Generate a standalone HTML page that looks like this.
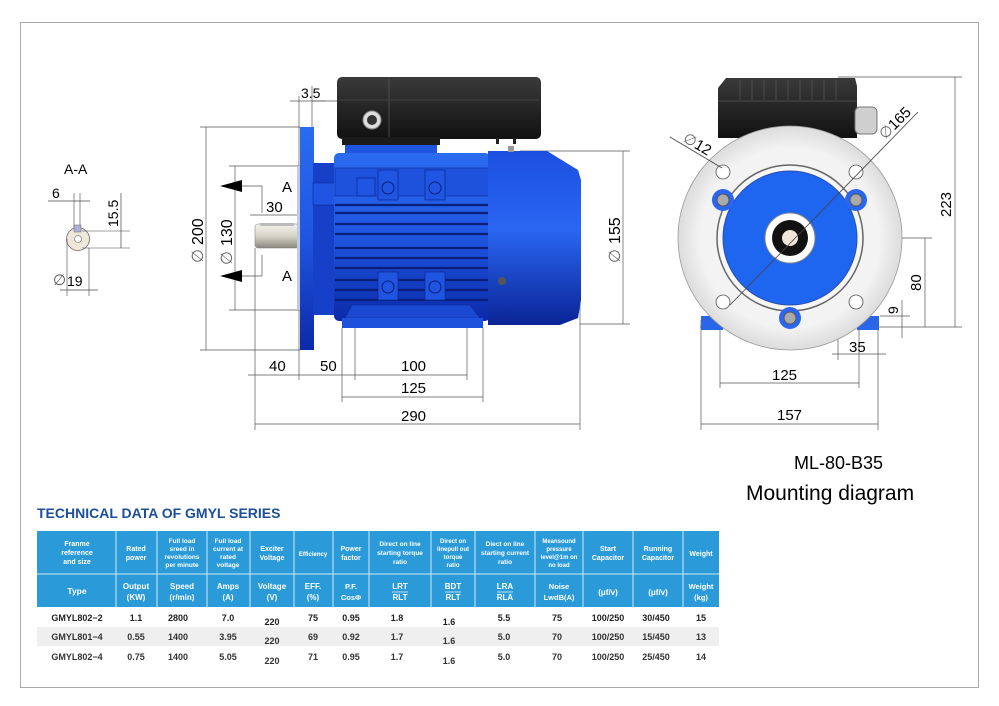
<!DOCTYPE html>
<html><head><meta charset="utf-8"><style>
html,body{margin:0;padding:0;background:#fff;}
svg{display:block;font-family:"Liberation Sans",Arial,sans-serif;}
</style></head><body>
<svg width="999" height="706" viewBox="0 0 999 706" xmlns="http://www.w3.org/2000/svg">
<defs>
<linearGradient id="bv" x1="0" y1="0" x2="0" y2="1">
<stop offset="0" stop-color="#2a6cf0"/><stop offset="0.5" stop-color="#1f55e0"/><stop offset="1" stop-color="#0b2aa8"/></linearGradient>
<linearGradient id="cap" x1="0" y1="0" x2="0" y2="1">
<stop offset="0" stop-color="#1c4fe0"/><stop offset="0.45" stop-color="#2a66f2"/><stop offset="1" stop-color="#0a2496"/></linearGradient>
<linearGradient id="shaft" x1="0" y1="0" x2="0" y2="1">
<stop offset="0" stop-color="#f4f2ec"/><stop offset="0.5" stop-color="#d8d4c8"/><stop offset="1" stop-color="#8a877e"/></linearGradient>
<linearGradient id="box" x1="0" y1="0" x2="0" y2="1">
<stop offset="0" stop-color="#3a3a3a"/><stop offset="1" stop-color="#111"/></linearGradient>
<radialGradient id="disc" cx="0.5" cy="0.5" r="0.5">
<stop offset="0.8" stop-color="#f3f3f3"/><stop offset="1" stop-color="#dcdcdc"/></radialGradient>
</defs>
<rect x="20.5" y="22.5" width="958" height="665" fill="none" stroke="#aaa" stroke-width="1"/>

<!-- A-A section -->
<text x="64" y="174" font-size="14">A-A</text>
<text x="52" y="198" font-size="14">6</text>
<line x1="48" y1="201" x2="90" y2="201" stroke="#444" stroke-width="0.7"/>
<line x1="74" y1="193" x2="74" y2="228" stroke="#444" stroke-width="0.6"/>
<line x1="80" y1="193" x2="80" y2="228" stroke="#444" stroke-width="0.6"/>
<circle cx="78" cy="239" r="11.5" fill="#efe8da" stroke="#666" stroke-width="0.8"/>
<circle cx="78" cy="239" r="3.5" fill="#fff" stroke="#666" stroke-width="0.6"/>
<rect x="74" y="225" width="7" height="7" fill="#aab0d8" stroke="#666" stroke-width="0.5"/>
<line x1="82" y1="231" x2="130" y2="231" stroke="#444" stroke-width="0.6"/>
<line x1="82" y1="248" x2="130" y2="248" stroke="#444" stroke-width="0.6"/>
<line x1="121" y1="193" x2="121" y2="248" stroke="#444" stroke-width="0.7"/>
<text transform="translate(118,227) rotate(-90)" font-size="14">15.5</text>
<line x1="67" y1="239" x2="67" y2="296" stroke="#444" stroke-width="0.6"/>
<line x1="89" y1="248" x2="89" y2="296" stroke="#444" stroke-width="0.6"/>
<line x1="60" y1="290" x2="98" y2="290" stroke="#444" stroke-width="0.7"/>
<text x="53" y="285" font-size="15" fill="#555">∅</text><text x="67" y="286" font-size="14">19</text>

<!-- Left view: dimension lines -->
<g stroke="#555" stroke-width="0.7" fill="none">
<line x1="200" y1="127" x2="300" y2="127"/><line x1="200" y1="350" x2="300" y2="350"/>
<line x1="206" y1="127" x2="206" y2="350"/>
<line x1="229" y1="166" x2="300" y2="166"/><line x1="229" y1="310" x2="300" y2="310"/>
<line x1="235" y1="166" x2="235" y2="310"/>
<line x1="242" y1="186" x2="262" y2="186"/><line x1="262" y1="186" x2="262" y2="213"/>
<line x1="242" y1="276" x2="262" y2="276"/><line x1="262" y1="276" x2="262" y2="255"/>
<line x1="250" y1="215" x2="300" y2="215"/>
<line x1="255" y1="248" x2="255" y2="430"/>
<line x1="299" y1="96" x2="299" y2="380"/><line x1="312" y1="86" x2="312" y2="127"/>
<line x1="290" y1="101" x2="325" y2="101"/><line x1="312" y1="101" x2="337" y2="101"/>
<line x1="342" y1="328" x2="342" y2="402"/><line x1="355" y1="328" x2="355" y2="380"/>
<line x1="467" y1="328" x2="467" y2="380"/><line x1="483" y1="328" x2="483" y2="402"/>
<line x1="580" y1="300" x2="580" y2="430"/>
<line x1="248" y1="375" x2="467" y2="375"/>
<line x1="342" y1="397" x2="483" y2="397"/>
<line x1="255" y1="424" x2="580" y2="424"/>
<line x1="520" y1="151" x2="630" y2="151"/><line x1="580" y1="324" x2="630" y2="324"/>
<line x1="623" y1="151" x2="623" y2="324"/>
</g>
<polygon points="220,186 242,180 242,192" fill="#000"/>
<polygon points="220,276 242,270 242,282" fill="#000"/>
<text x="282" y="192" font-size="15">A</text>
<text x="282" y="281" font-size="15">A</text>
<text x="266" y="212" font-size="15">30</text>
<text x="301" y="98" font-size="14">3.5</text>
<text transform="translate(203,245) rotate(-90)" font-size="16">200</text>
<text transform="translate(203,263) rotate(-90)" font-size="16" fill="#666">∅</text>
<text transform="translate(232,246) rotate(-90)" font-size="16">130</text>
<text transform="translate(232,265) rotate(-90)" font-size="16" fill="#666">∅</text>
<text transform="translate(620,244) rotate(-90)" font-size="16">155</text>
<text transform="translate(620,263) rotate(-90)" font-size="16" fill="#666">∅</text>
<text x="269" y="371" font-size="15">40</text>
<text x="320" y="371" font-size="15">50</text>
<text x="401" y="371" font-size="15">100</text>
<text x="401" y="393" font-size="15">125</text>
<text x="401" y="421" font-size="15">290</text>

<!-- Left view: motor -->
<rect x="337" y="77" width="204" height="62" rx="5" fill="url(#box)"/>
<line x1="389" y1="79" x2="389" y2="137" stroke="#555" stroke-width="0.8"/>
<line x1="339" y1="100" x2="539" y2="100" stroke="#4a4a4a" stroke-width="0.8"/>
<rect x="342" y="137" width="98" height="8" fill="#1b1b1b"/>
<circle cx="372" cy="120" r="9" fill="#ddd" stroke="#888"/><circle cx="372" cy="120" r="5" fill="#333"/>
<rect x="496" y="138" width="3" height="6" fill="#222"/><rect x="513" y="138" width="3" height="6" fill="#222"/>
<rect x="345" y="145" width="92" height="12" fill="#1f55e0"/>
<!-- shaft -->
<rect x="255" y="224" width="44" height="24" rx="3" fill="url(#shaft)" stroke="#777" stroke-width="0.5"/>
<rect x="260" y="223" width="34" height="3" fill="#bbb"/>
<!-- flange -->
<rect x="297" y="166" width="4" height="144" fill="#bfc8e6"/>
<rect x="300" y="127" width="14" height="223" fill="url(#bv)"/>
<rect x="313" y="163" width="30" height="152" fill="#1740c8"/>
<rect x="313" y="183" width="48" height="22" fill="#1f55e0" stroke="#0a2a9a" stroke-width="0.6"/>
<!-- body -->
<rect x="334" y="153" width="156" height="168" rx="5" fill="url(#bv)"/>
<g stroke="#0a1f7a" stroke-width="2.2">
<line x1="335" y1="205" x2="489" y2="205"/><line x1="335" y1="213" x2="489" y2="213"/>
<line x1="335" y1="224" x2="489" y2="224"/><line x1="335" y1="234" x2="489" y2="234"/>
<line x1="335" y1="248" x2="489" y2="248"/><line x1="335" y1="258" x2="489" y2="258"/>
<line x1="335" y1="268" x2="489" y2="268"/><line x1="335" y1="280" x2="489" y2="280"/>
<line x1="335" y1="290" x2="489" y2="290"/><line x1="335" y1="300" x2="489" y2="300"/>
</g>
<rect x="335" y="168" width="154" height="28" fill="#1e52dc" stroke="#0a2a9a" stroke-width="0.6"/>
<rect x="357" y="178" width="18" height="18" fill="#1f55e0" stroke="#0a2a9a" stroke-width="0.8"/>
<rect x="378" y="170" width="20" height="30" fill="#1f55e0" stroke="#0a2a9a" stroke-width="0.8"/>
<rect x="425" y="170" width="20" height="30" fill="#1f55e0" stroke="#0a2a9a" stroke-width="0.8"/>
<circle cx="388" cy="188" r="6" fill="none" stroke="#0a1f7a"/><circle cx="435" cy="188" r="6" fill="none" stroke="#0a1f7a"/>
<rect x="378" y="272" width="20" height="28" fill="#1f55e0" stroke="#0a2a9a" stroke-width="0.8"/>
<rect x="425" y="272" width="20" height="28" fill="#1f55e0" stroke="#0a2a9a" stroke-width="0.8"/>
<circle cx="388" cy="287" r="6" fill="none" stroke="#0a1f7a"/><circle cx="435" cy="287" r="6" fill="none" stroke="#0a1f7a"/>
<path d="M345,318 L352,305 L470,305 L480,318 Z" fill="#1a48d0" stroke="#0a2a9a" stroke-width="0.6"/>
<rect x="342" y="318" width="141" height="10" fill="#1e52dc"/>
<!-- end cap -->
<path d="M488,151 L547,151 L578,170 L581,180 L581,300 L578,318 L560,325 L488,325 Z" fill="url(#cap)"/>
<rect x="508" y="146" width="6" height="6" fill="#999"/>
<circle cx="502" cy="281" r="4" fill="#555"/>

<!-- Right view -->
<g stroke="#555" stroke-width="0.7" fill="none">
<line x1="838" y1="77" x2="962" y2="77"/><line x1="700" y1="327" x2="962" y2="327"/>
<line x1="955" y1="77" x2="955" y2="327"/>
<line x1="790" y1="238" x2="932" y2="238"/><line x1="925" y1="238" x2="925" y2="327"/>
<line x1="880" y1="316" x2="910" y2="316"/><line x1="902" y1="300" x2="902" y2="338"/>
<line x1="701" y1="320" x2="701" y2="430"/><line x1="878" y1="320" x2="878" y2="430"/>
<line x1="720" y1="318" x2="720" y2="388"/><line x1="859" y1="318" x2="859" y2="388"/>
<line x1="838" y1="330" x2="838" y2="360"/>
<line x1="832" y1="354" x2="886" y2="354"/>
<line x1="720" y1="383" x2="859" y2="383"/>
<line x1="701" y1="424" x2="878" y2="424"/>
</g>
<rect x="701" y="316" width="22" height="14" fill="#2a66e8"/>
<rect x="857" y="316" width="22" height="14" fill="#2a66e8"/>
<path d="M718,88 L726,78 L855,78 L857,86 L857,138 L718,138 Z" fill="url(#box)"/>
<g stroke="#555" stroke-width="0.8">
<line x1="740" y1="80" x2="740" y2="100"/><line x1="752" y1="80" x2="752" y2="100"/><line x1="764" y1="80" x2="764" y2="100"/>
<line x1="776" y1="80" x2="776" y2="100"/><line x1="788" y1="80" x2="788" y2="100"/><line x1="800" y1="80" x2="800" y2="100"/>
<line x1="812" y1="80" x2="812" y2="100"/><line x1="824" y1="80" x2="824" y2="100"/><line x1="836" y1="80" x2="836" y2="100"/>
<line x1="718" y1="101" x2="857" y2="101"/></g>
<rect x="855" y="107" width="22" height="27" rx="5" fill="#cfcfcf" stroke="#777"/>
<circle cx="790" cy="238" r="112" fill="url(#disc)" stroke="#999" stroke-width="0.8"/>
<circle cx="790" cy="238" r="73" fill="#f6f6f6" stroke="#666" stroke-width="1.5"/>
<circle cx="790" cy="238" r="67" fill="#1e66f0" stroke="#2a4cae" stroke-width="1"/>
<circle cx="790" cy="238" r="25" fill="#fff" stroke="#888"/>
<circle cx="790" cy="238" r="18" fill="#111"/>
<circle cx="790" cy="238" r="8" fill="#eee6d8"/>
<g fill="#fff" stroke="#555" stroke-width="0.8">
<circle cx="723" cy="172" r="7"/><circle cx="856" cy="172" r="7"/><circle cx="723" cy="302" r="7"/><circle cx="856" cy="302" r="7"/></g>
<g><circle cx="723" cy="200" r="11" fill="#2a66f0"/><circle cx="723" cy="200" r="6" fill="#aaa" stroke="#555"/>
<circle cx="856" cy="200" r="11" fill="#2a66f0"/><circle cx="856" cy="200" r="6" fill="#aaa" stroke="#555"/>
<circle cx="790" cy="318" r="11" fill="#2a66f0"/><circle cx="790" cy="318" r="6" fill="#aaa" stroke="#555"/></g>
<line x1="670" y1="137" x2="722" y2="168" stroke="#444" stroke-width="0.8"/>
<line x1="918" y1="112" x2="730" y2="305" stroke="#444" stroke-width="0.8"/>
<text transform="translate(682,141) rotate(30)" font-size="15"><tspan fill="#666">∅</tspan>12</text>
<text transform="translate(885,140) rotate(-45)" font-size="15"><tspan fill="#666">∅</tspan>165</text>
<text transform="translate(951,217) rotate(-90)" font-size="15">223</text>
<text transform="translate(921,291) rotate(-90)" font-size="15">80</text>
<text transform="translate(898,314) rotate(-90)" font-size="14">9</text>
<text x="849" y="352" font-size="15">35</text>
<text x="772" y="380" font-size="15">125</text>
<text x="777" y="420" font-size="15">157</text>

<text x="794" y="469" font-size="18">ML-80-B35</text>
<text x="746" y="500" font-size="21">Mounting diagram</text>

<!-- Table -->
<text x="37" y="518" font-size="14" font-weight="bold" fill="#1c4f98">TECHNICAL DATA OF GMYL SERIES</text>
<rect x="37" y="531" width="682" height="76" fill="#2a9bd8"/>
<line x1="37" y1="574" x2="719" y2="574" stroke="#cfe8f6" stroke-width="1"/>
<g stroke="#cfe8f6" stroke-width="1">
<line x1="116" y1="531" x2="116" y2="607"/><line x1="157" y1="531" x2="157" y2="607"/><line x1="207" y1="531" x2="207" y2="607"/>
<line x1="250" y1="531" x2="250" y2="607"/><line x1="294" y1="531" x2="294" y2="607"/><line x1="333" y1="531" x2="333" y2="607"/>
<line x1="369" y1="531" x2="369" y2="607"/><line x1="431" y1="531" x2="431" y2="607"/><line x1="475" y1="531" x2="475" y2="607"/>
<line x1="535" y1="531" x2="535" y2="607"/><line x1="583" y1="531" x2="583" y2="607"/><line x1="633" y1="531" x2="633" y2="607"/>
<line x1="683" y1="531" x2="683" y2="607"/></g>
<rect x="37" y="627" width="682" height="19" fill="#efefef"/>
<g fill="#fff" font-weight="bold" font-size="7" text-anchor="middle">
<text x="77" y="546">Franme</text><text x="77" y="555">reference</text><text x="77" y="564">and size</text>
<text x="136" y="551">Rated</text><text x="136" y="560">power</text>
<text x="182" y="543" font-size="6.5">Full load</text><text x="182" y="551" font-size="6.5">sreed in</text><text x="182" y="559" font-size="6.5">revolutions</text><text x="182" y="567" font-size="6.5">per minute</text>
<text x="228" y="543" font-size="6.5">Full load</text><text x="228" y="551" font-size="6.5">current at</text><text x="228" y="559" font-size="6.5">rated</text><text x="228" y="567" font-size="6.5">voltage</text>
<text x="272" y="551">Exciter</text><text x="272" y="560">Voltage</text>
<text x="313" y="556" font-size="6">Efficiency</text>
<text x="351" y="551">Power</text><text x="351" y="560">factor</text>
<text x="400" y="546" font-size="6.5">Direct on line</text><text x="400" y="555" font-size="6.5">starting torque</text><text x="400" y="564" font-size="6.5">ratio</text>
<text x="453" y="543" font-size="6">Direct on</text><text x="453" y="551" font-size="6">linepull out</text><text x="453" y="559" font-size="6">torque</text><text x="453" y="567" font-size="6">ratio</text>
<text x="505" y="546" font-size="6.5">Diect on line</text><text x="505" y="555" font-size="6.5">starting current</text><text x="505" y="564" font-size="6.5">ratio</text>
<text x="559" y="543" font-size="6">Meansound</text><text x="559" y="551" font-size="6">pressure</text><text x="559" y="559" font-size="6">level@1m on</text><text x="559" y="567" font-size="6">no load</text>
<text x="608" y="551">Start</text><text x="608" y="560">Capacitor</text>
<text x="658" y="551">Running</text><text x="658" y="560">Capacitor</text>
<text x="701" y="556">Weight</text>
<text x="77" y="594" font-size="8.5">Type</text>
<text x="136" y="589" font-size="8">Output</text><text x="136" y="600" font-size="8">(KW)</text>
<text x="182" y="589" font-size="8">Speed</text><text x="182" y="600" font-size="8">(r/min)</text>
<text x="228" y="589" font-size="8">Amps</text><text x="228" y="600" font-size="8">(A)</text>
<text x="272" y="589" font-size="8">Voltage</text><text x="272" y="600" font-size="8">(V)</text>
<text x="313" y="589" font-size="8">EFF.</text><text x="313" y="600" font-size="8">(%)</text>
<text x="351" y="589" font-size="7.5">P.F.</text><text x="351" y="600" font-size="7.5">CosΦ</text>
<text x="400" y="589" font-size="8">LRT</text><text x="400" y="600" font-size="8">RLT</text>
<text x="453" y="589" font-size="8">BDT</text><text x="453" y="600" font-size="8">RLT</text>
<text x="505" y="589" font-size="8">LRA</text><text x="505" y="600" font-size="8">RLA</text>
<text x="559" y="589" font-size="7.5">Noise</text><text x="559" y="600" font-size="7.5">LwdB(A)</text>
<text x="608" y="595" font-size="8">(μf/v)</text>
<text x="658" y="595" font-size="8">(μf/v)</text>
<text x="701" y="589" font-size="7.5">Weight</text><text x="701" y="600" font-size="7.5">(kg)</text>
</g>
<g stroke="#fff" stroke-width="0.7"><line x1="392" y1="592" x2="408" y2="592"/><line x1="445" y1="592" x2="461" y2="592"/><line x1="497" y1="592" x2="513" y2="592"/></g>
<g font-size="9" font-weight="bold" fill="#222" text-anchor="middle">
<text x="77" y="621">GMYL802−2</text><text x="136" y="621">1.1</text><text x="178" y="621">2800</text><text x="228" y="621">7.0</text><text x="272" y="625">220</text><text x="313" y="621">75</text><text x="351" y="621">0.95</text><text x="397" y="621">1.8</text><text x="449" y="625">1.6</text><text x="504" y="621">5.5</text><text x="557" y="621">75</text><text x="608" y="621">100/250</text><text x="656" y="621">30/450</text><text x="701" y="621">15</text>
</g>
<g font-size="9" font-weight="bold" fill="#333" text-anchor="middle">
<text x="77" y="640">GMYL801−4</text><text x="136" y="640">0.55</text><text x="178" y="640">1400</text><text x="228" y="640">3.95</text><text x="272" y="644">220</text><text x="313" y="640">69</text><text x="351" y="640">0.92</text><text x="397" y="640">1.7</text><text x="449" y="644">1.6</text><text x="504" y="640">5.0</text><text x="557" y="640">70</text><text x="608" y="640">100/250</text><text x="656" y="640">15/450</text><text x="701" y="640">13</text>
<text x="77" y="660">GMYL802−4</text><text x="136" y="660">0.75</text><text x="178" y="660">1400</text><text x="228" y="660">5.05</text><text x="272" y="664">220</text><text x="313" y="660">71</text><text x="351" y="660">0.95</text><text x="397" y="660">1.7</text><text x="449" y="664">1.6</text><text x="504" y="660">5.0</text><text x="557" y="660">70</text><text x="608" y="660">100/250</text><text x="656" y="660">25/450</text><text x="701" y="660">14</text>
</g>
</svg>
</body></html>
